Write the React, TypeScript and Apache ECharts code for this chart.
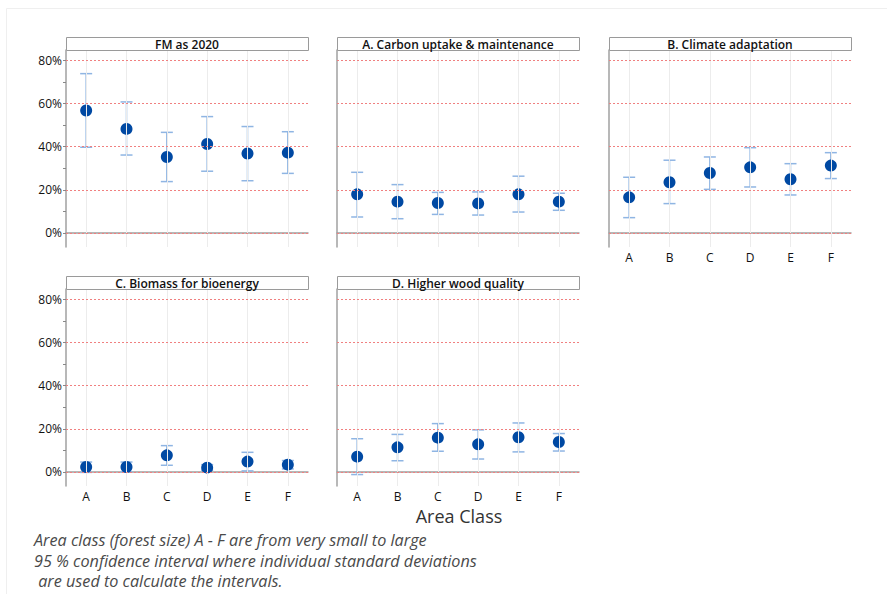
import React, { useEffect, useRef } from 'react';
import * as echarts from 'echarts';

const categories = ['A', 'B', 'C', 'D', 'E', 'F'];
const panelTitles = [
  'FM as 2020',
  'A. Carbon uptake & maintenance',
  'B. Climate adaptation',
  'C. Biomass for bioenergy',
  'D. Higher wood quality',
];

// Mean share (%) and 95% confidence interval per area class
const fmMean = [56.7, 48.2, 35.2, 41.2, 36.8, 37.2];
const fmLow = [39.7, 36.1, 23.8, 28.6, 24.2, 27.6];
const fmHigh = [73.8, 60.7, 46.6, 53.9, 49.3, 46.9];

const carbonMean = [17.9, 14.5, 13.9, 13.7, 17.9, 14.5];
const carbonLow = [7.4, 6.6, 8.6, 8.3, 9.7, 10.5];
const carbonHigh = [28.1, 22.4, 18.8, 19.0, 26.3, 18.4];

const climateMean = [16.5, 23.5, 27.8, 30.4, 24.9, 31.2];
const climateLow = [7.1, 13.6, 20.2, 21.3, 17.6, 25.2];
const climateHigh = [25.8, 33.7, 35.2, 39.5, 32.1, 37.2];

const biomassMean = [2.3, 2.3, 7.7, 2.0, 4.8, 3.4];
const biomassLow = [-0.2, 0.0, 3.1, 0.8, 0.5, 1.4];
const biomassHigh = [4.6, 4.6, 12.2, 3.4, 9.1, 5.3];

const woodMean = [7.1, 11.4, 15.9, 12.8, 16.1, 13.9];
const woodLow = [-1.2, 5.2, 9.6, 6.0, 9.3, 9.7];
const woodHigh = [15.4, 17.4, 22.4, 19.5, 22.7, 17.8];

const yLabelValues = [0, 20, 40, 60, 80];
const yTickValues = [0, 10, 20, 30, 40, 50, 60, 70, 80];
const xAxisTitle = 'Area Class';
const noteLines = [
  'Area class (forest size) A - F are from very small to large',
  '95 % confidence interval where individual standard deviations',
  ' are used to calculate the intervals.',
];

const panels = [
  { mean: fmMean, low: fmLow, high: fmHigh },
  { mean: carbonMean, low: carbonLow, high: carbonHigh },
  { mean: climateMean, low: climateLow, high: climateHigh },
  { mean: biomassMean, low: biomassLow, high: biomassHigh },
  { mean: woodMean, low: woodLow, high: woodHigh },
];

const GRID_W = 242;
const GRID_H = 197;
const gridPos = [
  { left: 66, top: 50 },
  { left: 337, top: 50 },
  { left: 609, top: 50 },
  { left: 66, top: 289 },
  { left: 337, top: 289 },
];
const showXLabels = [false, false, true, true, true];
const showYLabels = [true, false, false, true, false];

const FONT = '"Open Sans", "Noto Sans", sans-serif';
const AXIS_COLOR = '#a0a0a0';
const POINT_COLOR = '#0049a3';
const BAR_COLOR = '#8fb5e3';
const GRID_RED = '#f08080';

export default function App() {
  const ref = useRef<HTMLDivElement>(null);

  useEffect(() => {
    if (!ref.current) return;
    const chart = echarts.init(ref.current, undefined, { renderer: 'svg' });

    const grid = gridPos.map((g) => ({
      left: g.left,
      top: g.top,
      width: GRID_W,
      height: GRID_H,
      containLabel: false,
    }));

    const xAxis = gridPos.map((_, i) => ({
      type: 'category',
      gridIndex: i,
      data: categories,
      boundaryGap: true,
      axisLine: { show: true, lineStyle: { color: AXIS_COLOR, width: 1.5 } },
      axisTick: {
        show: showXLabels[i],
        alignWithLabel: true,
        length: 4,
        lineStyle: { color: AXIS_COLOR },
      },
      axisLabel: {
        show: showXLabels[i],
        margin: 4,
        color: '#111',
        fontFamily: FONT,
        fontSize: 12,
        lineHeight: 13,
      },
      splitLine: { show: false },
    }));

    const yAxis = gridPos.map((_, i) => ({
      type: 'value',
      gridIndex: i,
      min: -6.5,
      max: 84.75,
      axisLine: { show: true, lineStyle: { color: AXIS_COLOR, width: 1.5 } },
      axisTick: {
        show: showYLabels[i],
        customValues: yTickValues,
        length: 3,
        lineStyle: { color: '#888' },
      },
      axisLabel: {
        show: showYLabels[i],
        customValues: yLabelValues,
        formatter: (v: number) => `${v}%`,
        margin: 4,
        color: '#111',
        fontFamily: FONT,
        fontSize: 12,
      },
      splitLine: { show: false },
    }));

    const series: any[] = [];
    panels.forEach((p, i) => {
      // vertical category reference lines
      series.push({
        type: 'line',
        xAxisIndex: i,
        yAxisIndex: i,
        data: p.mean,
        symbol: 'none',
        lineStyle: { opacity: 0 },
        itemStyle: { color: '#ececec' },
        silent: true,
        z: 1,
        markLine: {
          silent: true,
          symbol: 'none',
          label: { show: false },
          lineStyle: { color: '#ececec', type: 'solid', width: 1 },
          data: categories.map((c) => ({ xAxis: c })),
        },
      });
      // horizontal dotted reference lines
      series.push({
        type: 'line',
        xAxisIndex: i,
        yAxisIndex: i,
        data: p.mean,
        symbol: 'none',
        lineStyle: { opacity: 0 },
        itemStyle: { color: GRID_RED },
        silent: true,
        z: 1,
        markLine: {
          silent: true,
          symbol: 'none',
          label: { show: false },
          lineStyle: { color: GRID_RED, type: [2, 2], width: 1 },
          data: yLabelValues.map((v) => ({ yAxis: v })),
        },
      });
      series.push({
        type: 'custom',
        xAxisIndex: i,
        yAxisIndex: i,
        z: 2,
        data: categories.map((_, k) => [k, p.low[k], p.high[k]]),
        renderItem: (params: any, api: any) => {
          const x = api.value(0);
          const lo = api.coord([x, api.value(1)]);
          const hi = api.coord([x, api.value(2)]);
          const cap = 6;
          const style = { stroke: BAR_COLOR, lineWidth: 1.5 };
          return {
            type: 'group',
            children: [
              { type: 'line', shape: { x1: lo[0], y1: lo[1], x2: hi[0], y2: hi[1] }, style },
              { type: 'line', shape: { x1: lo[0] - cap, y1: lo[1], x2: lo[0] + cap, y2: lo[1] }, style },
              { type: 'line', shape: { x1: hi[0] - cap, y1: hi[1], x2: hi[0] + cap, y2: hi[1] }, style },
            ],
          };
        },
      });
      series.push({
        type: 'scatter',
        xAxisIndex: i,
        yAxisIndex: i,
        z: 3,
        data: p.mean,
        symbol: 'circle',
        symbolSize: 12,
        itemStyle: { color: POINT_COLOR, opacity: 1 },
      });
    });

    const graphic: any[] = [
      {
        type: 'line',
        shape: { x1: 6.5, y1: 8.5, x2: 887, y2: 8.5 },
        style: { stroke: '#efefef', lineWidth: 1 },
        silent: true,
      },
      {
        type: 'line',
        shape: { x1: 6.5, y1: 8.5, x2: 6.5, y2: 594 },
        style: { stroke: '#efefef', lineWidth: 1 },
        silent: true,
      },
    ];
    gridPos.forEach((g, i) => {
      graphic.push({
        type: 'rect',
        shape: { x: g.left + 0.5, y: g.top - 13 + 0.5, width: GRID_W, height: 13 },
        style: { fill: '#fff', stroke: '#9a9a9a', lineWidth: 1 },
        z: 10,
        silent: true,
      });
      graphic.push({
        type: 'text',
        x: g.left + GRID_W / 2,
        y: g.top - 6,
        z: 11,
        silent: true,
        style: {
          text: panelTitles[i],
          textAlign: 'center',
          textVerticalAlign: 'middle',
          fontFamily: FONT,
          fontWeight: 600,
          fontSize: 12,
          fill: '#111',
        },
      });
    });
    graphic.push({
      type: 'text',
      x: 459,
      y: 516,
      style: {
        text: xAxisTitle,
        textAlign: 'center',
        textVerticalAlign: 'middle',
        fontFamily: FONT,
        fontSize: 18,
        lineHeight: 18,
        fill: '#333',
      },
    });
    const noteY = [540, 560.5, 581];
    noteLines.forEach((t, k) => {
      graphic.push({
        type: 'text',
        x: 34,
        y: noteY[k],
        style: {
          text: t,
          textAlign: 'left',
          textVerticalAlign: 'middle',
          fontFamily: FONT,
          fontStyle: 'italic',
          fontSize: 16.2,
          fill: '#4a4a4a',
        },
      });
    });

    chart.setOption({
      animation: false,
      backgroundColor: '#ffffff',
      grid,
      xAxis,
      yAxis,
      series,
      graphic,
    });

    return () => chart.dispose();
  }, []);

  return (
    <div
      ref={ref}
      style={{ position: 'absolute', left: 0, top: 0, width: 887, height: 594 }}
    />
  );
}
